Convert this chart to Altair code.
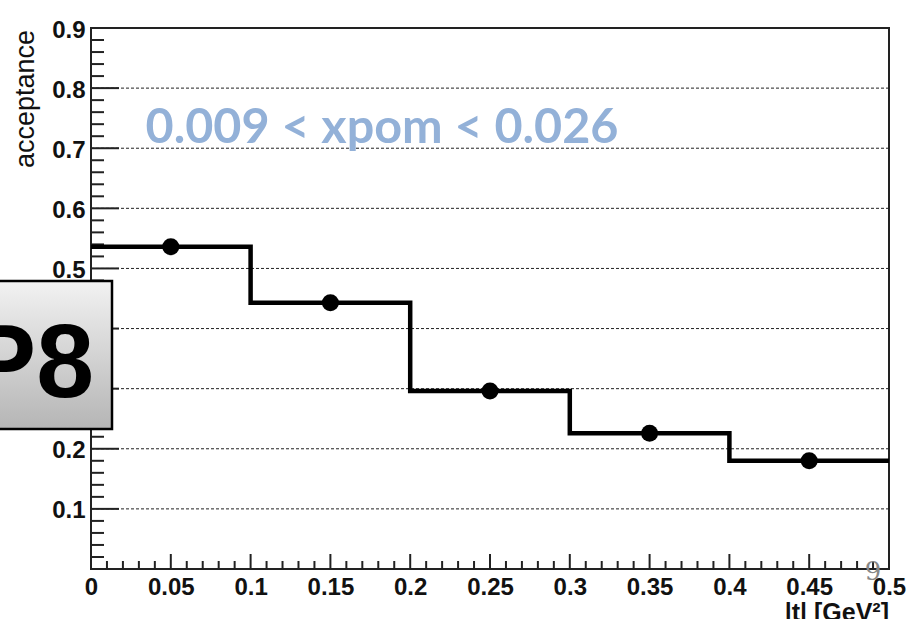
import altair as alt
import pandas as pd

# ---- data ----
bin_edges = [0.0, 0.1, 0.2, 0.3, 0.4, 0.5]
bin_centers = [0.05, 0.15, 0.25, 0.35, 0.45]
acceptance = [0.536, 0.443, 0.296, 0.226, 0.180]

x_tick_labels = [0, 0.05, 0.1, 0.15, 0.2, 0.25, 0.3, 0.35, 0.4, 0.45, 0.5]
y_tick_labels = [0.1, 0.2, 0.3, 0.4, 0.5, 0.6, 0.7, 0.8, 0.9]
y_grid = [0.1, 0.2, 0.3, 0.4, 0.5, 0.6, 0.7, 0.8]
x_major_ticks = [0.05, 0.1, 0.15, 0.2, 0.25, 0.3, 0.35, 0.4, 0.45]
x_minor_ticks = [round(i * 0.01, 2) for i in range(1, 50) if i % 5 != 0]
y_minor_ticks = [round(i * 0.02, 2) for i in range(1, 45) if i % 5 != 0]

title_text = ["0.009 < xpom < 0.026"]
box_text = ["P8"]
y_title = ["acceptance"]
x_title = ["|t| [GeV²]"]
corner_mark = ["9"]

W, H = 798, 541
FONT = "Liberation Sans"

step_df = pd.DataFrame({"t": bin_edges, "acc": acceptance + [acceptance[-1]]})
pts_df = pd.DataFrame({"t": bin_centers, "acc": acceptance})

xscale = alt.Scale(domain=[0, 0.5], nice=False, zero=False)
yscale = alt.Scale(domain=[0, 0.9], nice=False, zero=False)

xaxis = alt.Axis(values=x_tick_labels, format="~g", ticks=False, tickSize=0, domain=False,
                 grid=False, labelFont=FONT, labelFontWeight="bold", labelFontSize=24,
                 labelColor="#111", labelPadding=6, labelOverlap=False, labelFlush=False,
                 labelBound=False, title=None)
yaxis = alt.Axis(values=y_tick_labels, format=".1f", ticks=False, tickSize=0, domain=False,
                 grid=False, labelFont=FONT, labelFontWeight="bold", labelFontSize=24,
                 labelColor="#111", labelPadding=6, labelOverlap=False, labelFlush=False,
                 labelBound=False, labelOffset=2, title=None)

base = alt.Chart(step_df)

# dashed horizontal grid
grid = alt.Chart(pd.DataFrame({"g": y_grid})).mark_rule(
    color="#222", strokeWidth=1, strokeDash=[3, 2]
).encode(y=alt.Y("g:Q", scale=yscale, axis=yaxis), x=alt.value(0), x2=alt.value(W))

# inward ticks
ymaj = alt.Chart(pd.DataFrame({"g": y_grid})).mark_rule(color="#222", strokeWidth=2).encode(
    y=alt.Y("g:Q", scale=yscale), x=alt.value(0), x2=alt.value(28))
ymin = alt.Chart(pd.DataFrame({"g": y_minor_ticks})).mark_rule(color="#222", strokeWidth=2).encode(
    y=alt.Y("g:Q", scale=yscale), x=alt.value(0), x2=alt.value(13))
xmaj = alt.Chart(pd.DataFrame({"g": x_major_ticks})).mark_rule(color="#222", strokeWidth=2).encode(
    x=alt.X("g:Q", scale=xscale, axis=xaxis), y=alt.value(H), y2=alt.value(H - 15))
xmin = alt.Chart(pd.DataFrame({"g": x_minor_ticks})).mark_rule(color="#222", strokeWidth=2).encode(
    x=alt.X("g:Q", scale=xscale), y=alt.value(H), y2=alt.value(H - 8))

step = base.mark_line(interpolate="step-after", color="black", strokeWidth=4.5,
                      strokeJoin="miter", strokeCap="butt").encode(
    x=alt.X("t:Q", scale=xscale), y=alt.Y("acc:Q", scale=yscale))

points = alt.Chart(pts_df).mark_point(filled=True, color="black", opacity=1, size=290,
                                      shape="circle").encode(
    x=alt.X("t:Q", scale=xscale), y=alt.Y("acc:Q", scale=yscale))

blue = alt.Chart(pd.DataFrame({"s": title_text})).mark_text(
    font="Lato", fontWeight="bold", fontSize=48.5, color="#93b1d8", align="center",
    baseline="alphabetic").encode(text="s:N", x=alt.value(382 - 91), y=alt.value(143 - 28))

box = alt.Chart(pd.DataFrame({"s": box_text})).mark_rect(
    stroke="black", strokeWidth=2.5, clip=False,
    fill=alt.Gradient(gradient="linear", x1=0, y1=0, x2=0, y2=1,
                      stops=[alt.GradientStop(offset=0, color="#f2f2f2"),
                             alt.GradientStop(offset=1, color="#b5b5b5")])
).encode(x=alt.value(-100), x2=alt.value(112 - 91), y=alt.value(281 - 28), y2=alt.value(429 - 28))

box_lbl = alt.Chart(pd.DataFrame({"s": box_text})).mark_text(
    font=FONT, fontWeight="bold", fontSize=104, color="black", align="right",
    baseline="alphabetic").encode(text="s:N", x=alt.value(94 - 91), y=alt.value(397 - 28))

ytitle = alt.Chart(pd.DataFrame({"s": y_title})).mark_text(
    font=FONT, fontSize=27, color="#111", angle=270, align="right",
    baseline="middle").encode(text="s:N", x=alt.value(26 - 91), y=alt.value(30 - 28))

xtitle = alt.Chart(pd.DataFrame({"s": x_title})).mark_text(
    font=FONT, fontWeight="bold", fontSize=25, color="#111", align="right",
    baseline="alphabetic").encode(text="s:N", x=alt.value(889 - 91), y=alt.value(621 - 28))

mark9 = alt.Chart(pd.DataFrame({"s": corner_mark})).mark_text(
    font="DejaVu Serif", fontSize=26, color="#888", align="center",
    baseline="alphabetic").encode(text="s:N", x=alt.value(873 - 91), y=alt.value(580 - 28))

chart = alt.layer(grid, ymin, ymaj, xmin, xmaj, step, points, blue, ytitle, xtitle,
                  mark9, box, box_lbl).properties(
    width=W, height=H,
    padding={"left": 91, "top": 28, "right": 29, "bottom": 50},
    autosize=alt.AutoSizeParams(type="none"),
    background="white",
).configure_view(stroke="#222", strokeWidth=2)

chart.save("out.html", embed_options={"renderer": "svg", "actions": False})
